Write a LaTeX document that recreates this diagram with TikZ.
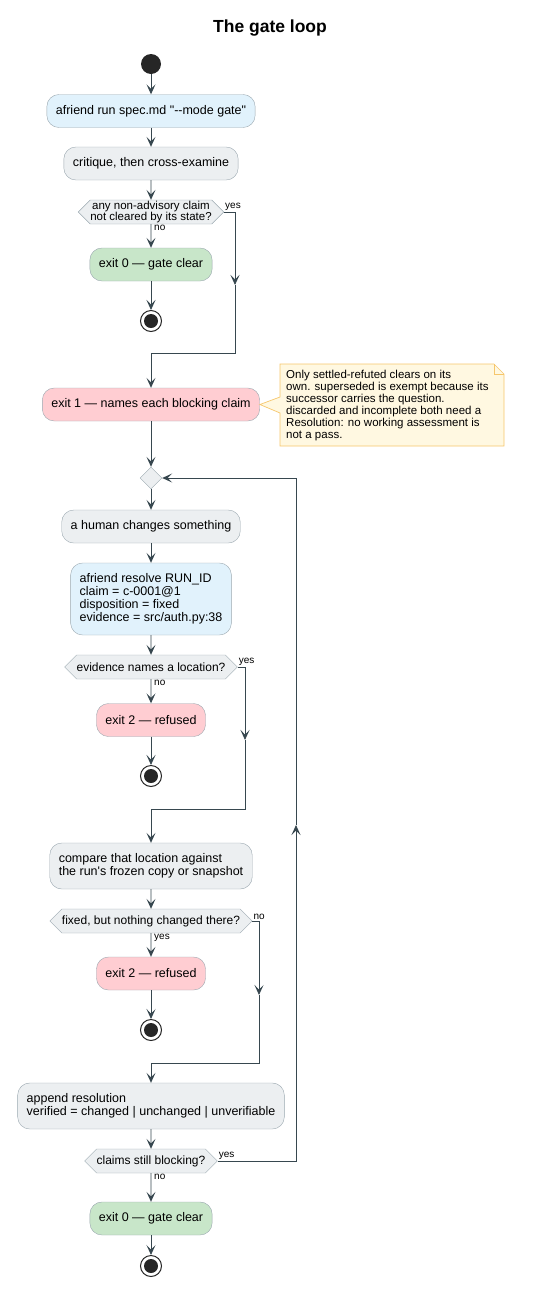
\documentclass[tikz,border=0pt]{standalone}
\usepackage{fontspec}
\setmainfont{Liberation Sans}
\usetikzlibrary{positioning, arrows.meta, shapes.symbols, shapes.geometric, calc}

\definecolor{edgecol}{HTML}{37474F}
\definecolor{rimcol}{HTML}{9AA7AF}
\definecolor{greyfill}{HTML}{ECEFF1}
\definecolor{bluefill}{HTML}{E1F2FC}
\definecolor{greenfill}{HTML}{C8E6C9}
\definecolor{pinkfill}{HTML}{FFCDD2}
\definecolor{notefill}{HTML}{FFF8E1}
\definecolor{noterim}{HTML}{F6C66B}

\tikzset{
  every node/.style={font=\fontsize{12.5}{13}\selectfont},
  act/.style={draw=rimcol, fill=greyfill, rounded corners=12pt, minimum height=33pt, inner xsep=9pt, align=center},
  cmd/.style={act, fill=bluefill, align=left},
  good/.style={act, fill=greenfill},
  bad/.style={act, fill=pinkfill},
  ask/.style={draw=rimcol, fill=greyfill, signal, signal to=west and east, minimum height=24pt, inner xsep=0pt, inner ysep=1pt, align=center, font=\fontsize{12}{12}\selectfont},
  flow/.style={draw=edgecol, line width=0.9pt, -{Stealth[length=10pt, width=9pt, inset=4.5pt]}},
  tag/.style={font=\fontsize{10}{11}\selectfont, inner sep=1pt},
  startdot/.style={circle, fill=black!85, minimum size=20pt, inner sep=0pt},
  stopdot/.style={circle, draw=black!85, line width=1pt, fill=white, minimum size=21pt, inner sep=0pt,
    path picture={\fill[black!85] (path picture bounding box.center) circle (7pt);}},
  notetext/.style={font=\fontsize{11.5}{12}\selectfont, align=left, inner sep=6pt, anchor=north west},
}

\begin{document}
\begin{tikzpicture}[x=1pt, y=-1pt]
    \useasboundingbox (0,0) rectangle (540,1296);
    % Title
    \node[font=\bfseries\fontsize{17.5}{20}\selectfont] (title) at (270,28) {The gate loop};

    % First pass
    \node[startdot] (start) at (151,64) {};
    \node[cmd, align=center] (run) at (151,111) {afriend run spec.md \textquotedbl{-}{-}mode gate\textquotedbl};
    \node[act] (crit) at (151,163.5) {critique, then cross-examine};
    \node[ask, font=\fontsize{11.5}{11}\selectfont] (d1) at (151,212) {any non-advisory claim\\not cleared by its state?};
    \node[good] (ok1) at (151,264.5) {exit 0 — gate clear};
    \node[stopdot] (end1) at (151,321) {};
    \node[bad] (exit1) at (151,404.5) {exit 1 — names each blocking claim};

    % Note on exit 1
    \coordinate (nw) at (280,364);
    \coordinate (se) at (504,446);
    \filldraw[fill=notefill, draw=noterim, line width=0.7pt]
        (nw) -- (494,364) -- (504,374) -- (se) -- (280,446) -- (280,413) -- (exit1.east) -- (280,397) -- cycle;
    \draw[noterim, line width=0.7pt] (494,364) -- (494,374) -- (504,374);
    \node[notetext] (note) at (nw) {Only settled-refuted clears on its\\own. superseded is exempt because its\\successor carries the question.\\discarded and incomplete both need a\\Resolution: no working assessment is\\not a pass.};

    % The loop
    \node[draw=rimcol, fill=greyfill, diamond, minimum size=22pt, inner sep=0pt] (merge) at (151,478) {};
    \node[act] (human) at (151,526.5) {a human changes something};
    \node[cmd, minimum height=72pt] (resolve) at (151,599) {afriend resolve RUN\_ID\\claim = c-0001@1\\disposition = fixed\\evidence = src/auth.py:38};
    \node[ask] (d2) at (151,667) {evidence names a location?};
    \node[bad] (ref1) at (151,720) {exit 2 — refused};
    \node[stopdot] (end2) at (151,776) {};
    \node[act, align=left, minimum height=46pt] (cmp) at (151,866) {compare that location against\\the run\textquotesingle s frozen copy or snapshot};
    \node[ask] (d3) at (151,921) {fixed, but nothing changed there?};
    \node[bad] (ref2) at (151,973.5) {exit 2 — refused};
    \node[stopdot] (end3) at (151,1030) {};
    \node[act, align=left, minimum height=46pt] (app) at (151,1106) {append resolution\\verified = changed | unchanged | unverifiable};
    \node[ask] (d4) at (151,1161) {claims still blocking?};
    \node[good] (ok2) at (151,1218.5) {exit 0 — gate clear};
    \node[stopdot] (end4) at (151,1266) {};

    % Branch labels
    \node[tag, anchor=south west] (d1yes) at (d1.east) {yes};
    \node[tag, anchor=north west, xshift=2pt] (d1no) at (d1.south) {no};
    \node[tag, anchor=south west] (d2yes) at (d2.east) {yes};
    \node[tag, anchor=north west, xshift=2pt] (d2no) at (d2.south) {no};
    \node[tag, anchor=south west] (d3no) at (d3.east) {no};
    \node[tag, anchor=north west, xshift=2pt] (d3yes) at (d3.south) {yes};
    \node[tag, anchor=south west] (d4yes) at (d4.east) {yes};
    \node[tag, anchor=north west, xshift=2pt] (d4no) at (d4.south) {no};

    % Bends
    \coordinate (y1mid) at (235,285);
    \coordinate (y1turn) at (235,353);
    \coordinate (y2mid) at (245,740);
    \coordinate (y2turn) at (245,809);
    \coordinate (n3mid) at (259,995);
    \coordinate (n3turn) at (259,1063);
    \coordinate (backmid) at (296,825);

    % Straight flow
    \draw[flow] (start) -- (run);
    \draw[flow] (run) -- (crit);
    \draw[flow] (crit) -- (d1);
    \draw[flow] (d1) -- (ok1);
    \draw[flow] (ok1) -- (end1);
    \draw[flow] (exit1) -- (merge);
    \draw[flow] (merge) -- (human);
    \draw[flow] (human) -- (resolve);
    \draw[flow] (resolve) -- (d2);
    \draw[flow] (d2) -- (ref1);
    \draw[flow] (ref1) -- (end2);
    \draw[flow] (cmp) -- (d3);
    \draw[flow] (d3) -- (ref2);
    \draw[flow] (ref2) -- (end3);
    \draw[flow] (app) -- (d4);
    \draw[flow] (d4) -- (ok2);
    \draw[flow] (ok2) -- (end4);

    % Side branches
    \draw[flow] (d1.east) -| (y1mid);
    \draw[flow] (y1mid) -- (y1turn) -| (exit1.north);
    \draw[flow] (d2.east) -| (y2mid);
    \draw[flow] (y2mid) -- (y2turn) -| (cmp.north);
    \draw[flow] (d3.east) -| (n3mid);
    \draw[flow] (n3mid) -- (n3turn) -| (app.north);
    \draw[flow] (d4.east) -| (backmid);
    \draw[flow] (backmid) |- (merge.east);
\end{tikzpicture}
\end{document}
